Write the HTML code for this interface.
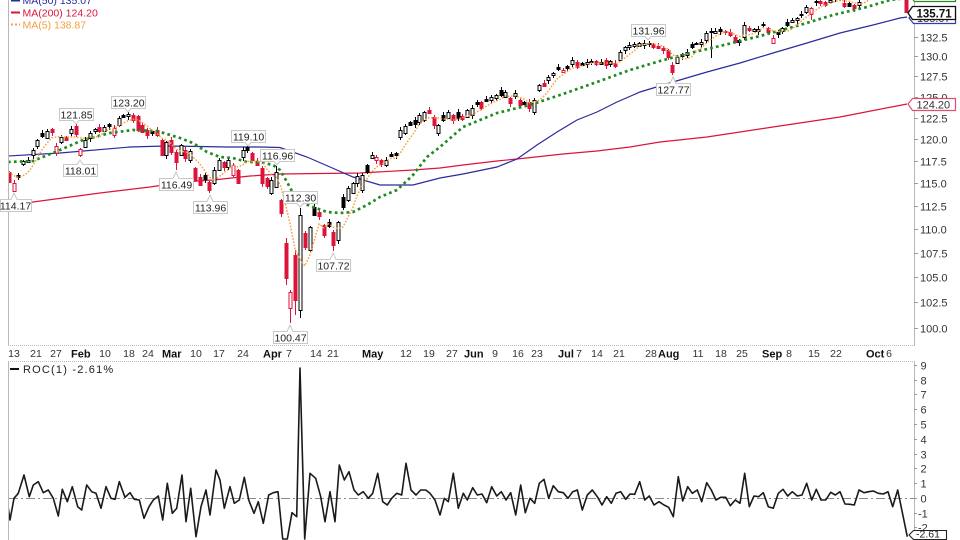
<!DOCTYPE html>
<html><head><meta charset="utf-8"><style>
html,body{margin:0;padding:0;background:#fff;width:960px;height:540px;overflow:hidden;}
svg{display:block;font-family:"Liberation Sans",Arial,sans-serif;}
</style></head><body>
<svg id="s" width="960" height="540" viewBox="0 0 960 540" xmlns="http://www.w3.org/2000/svg" overflow="hidden">
<defs>
<clipPath id="cm"><rect x="9" y="0" width="905" height="345.5"/></clipPath>
<clipPath id="cr"><rect x="9" y="362" width="905" height="178"/></clipPath>
</defs>
<rect width="960" height="540" fill="#fff"/>
<line x1="8.5" y1="0" x2="8.5" y2="346" stroke="#b8b8b8"/>
<line x1="914.5" y1="0" x2="914.5" y2="346" stroke="#b8b8b8"/>
<line x1="8" y1="345.5" x2="915" y2="345.5" stroke="#bdbdbd" stroke-dasharray="1,1"/>
<line x1="8" y1="361.5" x2="915" y2="361.5" stroke="#bdbdbd" stroke-dasharray="1,1"/>
<line x1="8.5" y1="361" x2="8.5" y2="540" stroke="#b8b8b8"/>
<line x1="914.5" y1="361" x2="914.5" y2="540" stroke="#b8b8b8"/>
<line x1="9" y1="498.5" x2="914" y2="498.5" stroke="#8a8a8a" stroke-dasharray="9,3,2,3"/>

<g id="main" clip-path="url(#cm)"></g>
<g id="roc" clip-path="url(#cr)"></g>

<!-- legend -->
<g font-size="10.5">
<line x1="11" y1="0.5" x2="20" y2="0.5" stroke="#2b2b9c" stroke-width="2"/>
<text x="22.5" y="4" fill="#2b2b9c">MA(50) 135.07</text>
<line x1="11" y1="12.5" x2="20" y2="12.5" stroke="#dc143c" stroke-width="2"/>
<text x="22.5" y="16.5" fill="#dc143c">MA(200) 124.20</text>
<line x1="11" y1="24.5" x2="20" y2="24.5" stroke="#f5a142" stroke-width="2" stroke-dasharray="2,2"/>
<text x="22.5" y="28.5" fill="#f0a040">MA(5) 138.87</text>
</g>

<!-- value labels -->
<g fill="#fff" stroke="#c8c8c8" stroke-width="1">
<path d="M59.5 108.5H93.5V120.5H79L76 124L73 120.5H59.5Z"/>
<path d="M111.5 96.5H145.5V108.5H131L128 112L125 108.5H111.5Z"/>
<path d="M231.5 130.5H265.5V142.5H251L248 146L245 142.5H231.5Z"/>
<path d="M260.5 149.5H294.5V161.5H280L277 165L274 161.5H260.5Z"/>
<path d="M283.5 191.5H317.5V203.5H303L300 207L297 203.5H283.5Z"/>
<path d="M631.5 24.5H665.5V36.5H651L648 40L645 36.5H631.5Z"/>
<path d="M63.5 164.5H77L80 160L83 164.5H97.5V176.5H63.5Z"/>
<path d="M0.5 199.5H11L14 193L17 199.5H31.5V211.5H0.5Z"/>
<path d="M159.5 178.5H173L176 172L179 178.5H193.5V190.5H159.5Z"/>
<path d="M193.5 201.5H207L210 195L213 201.5H227.5V213.5H193.5Z"/>
<path d="M316.5 259.5H330L333 253L336 259.5H350.5V271.5H316.5Z"/>
<path d="M273.5 331.5H287L290 325L293 331.5H307.5V343.5H273.5Z"/>
<path d="M656.5 83.5H670L673 77L676 83.5H690.5V95.5H656.5Z"/>
</g>
<g font-size="10.5" fill="#222" text-anchor="middle">
<text x="76.5" y="118.5">121.85</text>
<text x="128.5" y="106.5">123.20</text>
<text x="248.5" y="140.5">119.10</text>
<text x="277.5" y="159.5">116.96</text>
<text x="300.5" y="201.5">112.30</text>
<text x="648.5" y="34.5">131.96</text>
<text x="80.5" y="174.5">118.01</text>
<text x="15.5" y="209.5">114.17</text>
<text x="176.5" y="188.5">116.49</text>
<text x="210.5" y="211.5">113.96</text>
<text x="333.5" y="269.5">107.72</text>
<text x="290.5" y="341.5">100.47</text>
<text x="673.5" y="93.5">127.77</text>
</g>

<!-- price axis -->
<g stroke="#999">
<line x1="914" y1="328.5" x2="918" y2="328.5"/><line x1="914" y1="302.5" x2="918" y2="302.5"/>
<line x1="914" y1="277.5" x2="918" y2="277.5"/><line x1="914" y1="253.5" x2="918" y2="253.5"/>
<line x1="914" y1="229.5" x2="918" y2="229.5"/><line x1="914" y1="206.5" x2="918" y2="206.5"/>
<line x1="914" y1="183.5" x2="918" y2="183.5"/><line x1="914" y1="161.5" x2="918" y2="161.5"/>
<line x1="914" y1="139.5" x2="918" y2="139.5"/><line x1="914" y1="118.5" x2="918" y2="118.5"/>
<line x1="914" y1="97.5" x2="918" y2="97.5"/><line x1="914" y1="76.5" x2="918" y2="76.5"/>
<line x1="914" y1="56.5" x2="918" y2="56.5"/><line x1="914" y1="37.5" x2="918" y2="37.5"/>
</g>
<g font-size="11" fill="#333">
<text x="920" y="332.5">100.0</text>
<text x="920" y="306.5">102.5</text>
<text x="920" y="281.5">105.0</text>
<text x="920" y="257.5">107.5</text>
<text x="920" y="233.5">110.0</text>
<text x="920" y="210.5">112.5</text>
<text x="920" y="187.5">115.0</text>
<text x="920" y="165.5">117.5</text>
<text x="920" y="143.5">120.0</text>
<text x="920" y="122.5">122.5</text>
<text x="920" y="101.5">125.0</text>
<text x="920" y="80.5">127.5</text>
<text x="920" y="60.5">130.0</text>
<text x="920" y="41.5">132.5</text>
</g>

<!-- right tags -->
<path d="M910 -4L914.5 -9.5H955.5V1.5H914.5Z" fill="#fff" stroke="#2a8a2a" stroke-width="1.2"/>
<path d="M909 18L913.5 12.5H955.5V23.5H913.5Z" fill="#fff" stroke="#3a3ab0" stroke-width="1.2"/>
<text x="917" y="22" font-size="11" fill="#333">135.07</text>
<path d="M908 13L912.5 6.5H955.5V19.5H912.5Z" fill="#fff" stroke="#111" stroke-width="1.3"/>
<text x="916.5" y="17.5" font-size="11.5" font-weight="bold" fill="#111">135.71</text>
<path d="M908 104L912.5 98.5H955.5V110.5H912.5Z" fill="#fff" stroke="#e0506e" stroke-width="1.2"/>
<text x="916.5" y="108.5" font-size="11" fill="#333">124.20</text>

<!-- x axis labels -->
<g font-size="10.5" fill="#333" text-anchor="middle">
<text x="14" y="357">13</text><text x="36" y="357">21</text><text x="56" y="357">27</text>
<text x="105" y="357">10</text><text x="129" y="357">18</text><text x="148" y="357">24</text>
<text x="196" y="357">10</text><text x="219" y="357">17</text><text x="243" y="357">24</text>
<text x="289" y="357">7</text><text x="316" y="357">14</text><text x="333" y="357">21</text>
<text x="406" y="357">12</text><text x="429" y="357">19</text><text x="452" y="357">27</text>
<text x="495" y="357">9</text><text x="518" y="357">16</text><text x="537" y="357">23</text>
<text x="579" y="357">7</text><text x="597" y="357">14</text><text x="619" y="357">21</text>
<text x="651" y="357">28</text><text x="698" y="357">11</text><text x="721" y="357">18</text>
<text x="742" y="357">25</text><text x="789" y="357">8</text><text x="814" y="357">15</text>
<text x="836" y="357">22</text><text x="889" y="357">6</text>
</g>
<g font-size="11" font-weight="bold" fill="#111">
<text x="71" y="357.5">Feb</text><text x="162" y="357.5">Mar</text><text x="263" y="357.5">Apr</text>
<text x="362" y="357.5">May</text><text x="464" y="357.5">Jun</text><text x="558" y="357.5">Jul</text>
<text x="658" y="357.5">Aug</text><text x="762" y="357.5">Sep</text><text x="866" y="357.5">Oct</text>
</g>

<!-- ROC legend & axis -->
<line x1="10" y1="369" x2="19" y2="369" stroke="#111" stroke-width="2"/>
<text x="23" y="373" font-size="11" fill="#222" letter-spacing="1.2">ROC(1) -2.61%</text>
<g stroke="#999">
<line x1="914" y1="365.5" x2="917" y2="365.5"/><line x1="914" y1="380.5" x2="917" y2="380.5"/>
<line x1="914" y1="394.5" x2="917" y2="394.5"/><line x1="914" y1="409.5" x2="917" y2="409.5"/>
<line x1="914" y1="424.5" x2="917" y2="424.5"/><line x1="914" y1="439.5" x2="917" y2="439.5"/>
<line x1="914" y1="454.5" x2="917" y2="454.5"/><line x1="914" y1="468.5" x2="917" y2="468.5"/>
<line x1="914" y1="483.5" x2="917" y2="483.5"/><line x1="914" y1="498.5" x2="917" y2="498.5"/>
<line x1="914" y1="513.5" x2="917" y2="513.5"/><line x1="914" y1="527.5" x2="917" y2="527.5"/>
</g>
<g font-size="11" fill="#333">
<text x="920.5" y="369.5">9</text><text x="920.5" y="384.5">8</text><text x="920.5" y="398.5">7</text>
<text x="920.5" y="413.5">6</text><text x="920.5" y="428.5">5</text><text x="920.5" y="443.5">4</text>
<text x="920.5" y="458.5">3</text><text x="920.5" y="472.5">2</text><text x="920.5" y="487.5">1</text>
<text x="920.5" y="502.5">0</text><text x="918" y="517.5">-1</text><text x="918" y="531.5">-2</text>
</g>
<path d="M909 535L913.5 530.5H946.5V539.5H913.5Z" fill="#fff" stroke="#222" stroke-width="1.1"/>
<text x="916" y="537.5" font-size="10.5" fill="#222">-2.61</text>
</svg>
<script>
(function(){
var Y0=328,K=1034;
function toP(y){return 100*Math.exp((Y0-y)/K);}
function toY(p){return Y0-K*Math.log(p/100);}
function X(i){return 13.5+4.775*i;}
var D=[[172,182],[191,183],[175,177],[164,161],[162,160],[155,150],[146,140],[133,136],[138,131],[129,132],
[153,146],[142,137],[137,140],[133,129],[126,134],[155,149],[147,140],[138,133],[131,129],[127,131],
[131,127],[124,126],[135,128],[125,118],[115,117],[116,114],[115,120],[116,130],[125,132],[130,135],
[131,133],[130,135],[140,155],[155,142],[140,152],[152,162],[155,145],[150,158],[160,151],[168,180],
[177,185],[175,179],[182,190],[183,170],[170,160],[162,167],[167,160],[175,165],[170,183],[157,150],
[147,150],[153,160],[161,165],[168,183],[178,186],[193,180],[187,172],[200,213],[243,278],[308,292],
[255,300],[310,215],[233,247],[250,227],[207,215],[212,216],[225,235],[222,226],[232,245],[240,222],
[197,207],[200,188],[193,183],[183,176],[190,175],[165,172],[158,155],[160,157],[160,164],[165,160],
[154,156],[153,155],[137,130],[133,126],[122,125],[120,124],[122,115],[120,112],[110,113],[117,125],
[133,125],[115,120],[118,112],[115,120],[112,118],[116,119],[117,110],[115,108],[102,104],[102,108],
[99,101],[100,97],[98,95],[90,95],[97,92],[98,103],[96,93],[100,105],[102,104],[102,108],
[112,100],[90,85],[83,86],[80,77],[75,73],[67,69],[72,70],[66,68],[64,60],[62,67],
[63,65],[64,62],[62,61],[61,64],[62,64],[60,65],[64,61],[63,66],[60,52],[50,47],
[47,45],[46,44],[46,43],[45,43],[44,43],[44,47],[46,48],[48,50],[50,57],[65,72],
[63,57],[54,56],[55,52],[44,47],[43,44],[44,42],[40,33],[31,32],[33,31],[29,31],
[31,32],[32,35],[37,42],[40,42],[37,25],[28,30],[31,29],[31,29],[24,25],[28,32],
[43,38],[32,34],[31,28],[22,25],[22,20],[20,18],[14,15],[12,7],[14,8],[1,2],
[1,3],[2,5],[2,0],[-2,-4],[-4,-2],[3,6],[3,6],[5,8],[5,2],[-3,-6],
[-6,-8],[-8,-10],[-10,-13],[-12,-14],[-15,-17],[-17,-19],[-19,-18],[-18,-16],[-4,12]];
var warm=[160,158,162,165,160,157,155,158,162,166,163,160,158,156,160,163,165,168,170,175];
var HI={13:124,24:112,49:146,55:166,60:208,133:41,146:28,59:250,57:238};
var LO={0:191,14:157,34:170,41:193,58:323,67:251,138:75,146:58,167:20,57:285,59:315,60:318};
var RED="#dc143c",BLK="#000";
function cy(v){return Math.max(-2,Math.min(345,v));}
function pl(pts){return pts.map(function(p){return p[0].toFixed(1)+","+p[1].toFixed(1);}).join(" ");}
var ma50=[[8,156],[60,153],[130,147],[165,146],[200,146.5],[227,147],[260,147],[280,147.5],[307,157],[330,167],[353,177],[380,185],[413,185],[440,178],[463,174],[497,167],[517,159],[537,145],[557,132],[577,120],[597,112],[617,102],[640,92],[673,82],[707,72],[740,63],[773,53],[807,43],[840,33],[873,25],[900,18],[907,17]];
var ma200=[[8,204],[33,202],[100,193],[150,187],[183,182],[213,180],[250,176],[280,174],[320,173.5],[360,173],[413,170],[440,168],[463,165],[497,161],[517,159],[563,154],[597,151],[630,147],[660,142],[707,137],[773,127],[840,117],[907,104]];
var ma20=[[8,162],[33,161],[60,150],[83,140],[110,133],[133,130],[157,131],[180,138],[193,143],[207,152],[220,157],[233,158],[247,162],[260,162],[273,165],[280,170],[287,182],[293,193],[300,202],[313,207],[327,212],[340,213],[353,212],[367,205],[380,197],[397,190],[413,175],[427,157],[440,147],[463,127],[497,113],[530,105],[563,94],[597,82],[630,70],[660,61],[690,53],[720,46],[760,36],[800,25],[833,15],[867,7],[890,0],[907,-2]];
var h='';
h+='<polyline points="'+pl(ma200)+'" fill="none" stroke="#dc143c" stroke-width="1.2"/>';
h+='<polyline points="'+pl(ma50)+'" fill="none" stroke="#2b2b9c" stroke-width="1.2"/>';
var prev=warm[warm.length-1];
for(var k=0;k<D.length;k++){
  var i=k-1,o=D[k][0],c=D[k][1];
  var col=(c>prev)?RED:BLK;
  var hollow=(c<o);
  var top=Math.min(o,c),bot=Math.max(o,c);
  var hi=(HI[i]!==undefined)?HI[i]:top-(1+(k*5)%3);
  var lo=(LO[i]!==undefined)?LO[i]:bot+(1+(k*7)%4);
  var xc=Math.round(X(i))+0.5;
  prev=c;
  if(lo<0)continue;
  var t2=cy(top),b2=cy(bot);
  h+='<line x1="'+xc+'" y1="'+cy(hi)+'" x2="'+xc+'" y2="'+cy(lo)+'" stroke="'+col+'" stroke-width="1"/>';
  var hgt=Math.max(1,b2-t2);
  h+='<rect x="'+(xc-1.5)+'" y="'+(t2+0.5)+'" width="3" height="'+hgt+'" fill="'+(hollow?'#fff':col)+'" stroke="'+col+'" stroke-width="1"/>';
}
var closes=warm.concat(D.map(function(d){return d[1];}));
var prices=closes.map(toP);
function ma(n){var pts=[];for(var k=0;k<D.length;k++){var j=warm.length+k,s=0;for(var m=0;m<n;m++)s+=prices[j-m];pts.push([X(k-1),Math.max(-2,toY(s/n))]);}return pts;}
h+='<polyline points="'+pl(ma20)+'" fill="none" stroke="#1f8b1f" stroke-width="2.7" stroke-dasharray="2.7,3.2"/>';
h+='<polyline points="'+pl(ma(5))+'" fill="none" stroke="#f5a142" stroke-width="1.5" stroke-dasharray="1.6,1.6"/>';
document.getElementById('main').innerHTML=h;

var z6=[[25,205],[30,240],[42,175],[55,160],[72,105],[88,170],[100,135],[115,125],[130,158],[145,150],[160,175],[175,228],[187,148],[202,185],[217,140],[233,200],[245,210],[260,135],[275,155],[288,160],[303,205],[318,140],[333,175],[345,178],[358,125],[375,172],[390,158],[403,178],[418,180],[432,235],[447,200],[460,180],[475,168],[488,240],[502,130],[517,220],[530,205],[546,105],[558,245],[572,145],[588,290],[603,200],[618,150],[630,225],[648,90],[660,120],[673,205],[690,140],[703,190],[718,180],[733,112],[746,180],[762,220],[775,185],[790,250],[806,165],[820,158],[834,155],[848,360],[862,400],[876,218],[890,230],[900,-216],[914,350],[930,100],[947,115],[962,170],[975,245],[990,155],[1005,245],[1018,75],[1033,120],[1047,95],[1062,150],[1075,165],[1090,155],[1105,175],[1118,160],[1133,100],[1148,185],[1162,195],[1175,175],[1190,160],[1205,165],[1218,70],[1233,150],[1248,165],[1262,150],[1277,150],[1290,160],[1305,180],[1320,225],[1333,175],[1345,185],[1360,100],[1375,205]];
var z7=[[10,160],[22,180],[38,143],[52,165],[66,162],[80,188],[95,140],[110,168],[124,155],[138,180],[152,158],[167,225],[182,135],[196,218],[210,175],[224,190],[238,130],[252,118],[266,175],[280,137],[295,155],[310,158],[324,175],[338,155],[352,150],[367,210],[382,165],[397,150],[412,170],[426,195],[440,170],[454,190],[468,160],[482,155],[497,178],[510,162],[524,163],[539,125],[554,180],[568,168],[582,195],[597,185],[612,195],[626,202],[640,230],[655,110],[668,183],[683,140],[697,160],[712,150],[725,185],[740,128],[754,150],[768,180],[782,172],[797,172],[811,197],[826,180],[840,190],[854,100],[868,200],[882,168],[896,170],[910,158],[925,200],[940,205],[955,160],[969,148],[983,168],[997,155],[1012,168],[1026,165],[1040,130],[1055,180],[1069,148],[1083,180],[1097,180],[1112,157],[1126,165],[1140,155],[1155,192],[1170,193],[1183,195],[1197,150],[1212,158],[1226,155],[1240,153],[1255,160],[1270,162],[1284,155],[1298,200],[1313,150],[1342,290]];
var rp=z6.map(function(p){return [p[0]/3,Math.min(539,440+p[1]/3)];}).concat(z7.map(function(p){return [460+p[0]/3,Math.min(539,440+p[1]/3)];}));
document.getElementById('roc').innerHTML='<polyline points="'+pl(rp)+'" fill="none" stroke="#1a1a1a" stroke-width="1.6" stroke-linejoin="round"/>';
})();
</script>
</body></html>
